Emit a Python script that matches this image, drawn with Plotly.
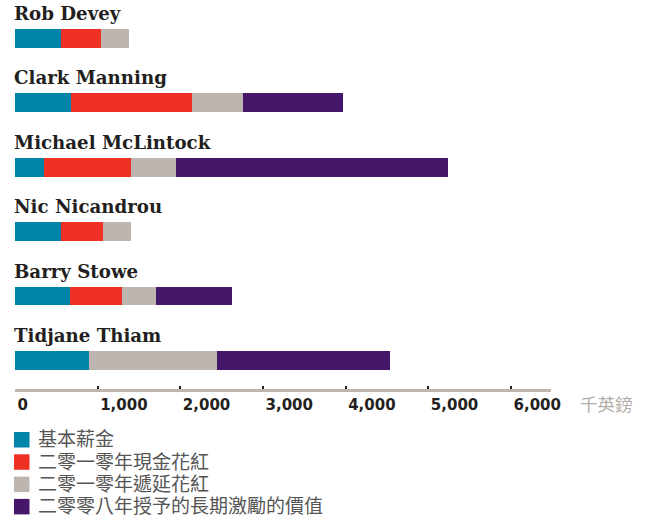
import plotly.graph_objects as go

# Prudential executive directors, 2010 remuneration (£ thousands)
names = ["Rob Devey", "Clark Manning", "Michael McLintock",
         "Nic Nicandrou", "Barry Stowe", "Tidjane Thiam"]
base_salary = [556, 681, 351, 556, 665, 895]
cash_bonus_2010 = [484, 1460, 1052, 508, 629, 0]
deferred_bonus_2010 = [339, 617, 544, 339, 411, 1548]
ltip_2008_value = [0, 1210, 3290, 0, 919, 2093]

series_names = ["基本薪金", "二零一零年現金花紅", "二零一零年遞延花紅", "二零零八年授予的長期激勵的價值"]
series_colors = ["#0085a8", "#ee3124", "#bdb5af", "#46166b"]
series_values = [base_salary, cash_bonus_2010, deferred_bonus_2010, ltip_2008_value]

tick_vals = [0, 1000, 2000, 3000, 4000, 5000, 6000]
tick_text = ["0", "1,000", "2,000", "3,000", "4,000", "5,000", "6,000"]
unit_label = "千英鎊"

W, H = 651, 519
rows = list(range(len(names)))

fig = go.Figure()
for label, color, vals in zip(series_names, series_colors, series_values):
    fig.add_trace(go.Bar(
        x=vals, y=rows, orientation="h", name=label,
        marker=dict(color=color, line=dict(width=0)),
        width=0.29, hoverinfo="skip", showlegend=False,
    ))

# executive names sit just above each bar
for i, n in enumerate(names):
    fig.add_annotation(
        x=0, y=i, xref="x", yref="y", text=n, showarrow=False,
        xanchor="left", yanchor="middle", xshift=-3, yshift=25,
        font=dict(family="DejaVu Serif", size=18.2, color="#231f20", weight="bold"),
    )

# unit label at the right end of the axis
fig.add_annotation(
    x=578 / W, y=1 - 403 / H, xref="paper", yref="paper", text=unit_label,
    showarrow=False, xanchor="left", yanchor="middle",
    font=dict(family="Noto Sans CJK TC", size=17.5, color="#b3aba5"),
)

# key: colour swatch + series name, one row per series
key_top, key_step, key_size = 432, 22.3, 15.5
key_font = "Liberation Sans, Noto Sans CJK TC"
for k, (label, color) in enumerate(zip(series_names, series_colors)):
    top = key_top + k * key_step
    fig.add_shape(
        type="rect", xref="paper", yref="paper",
        x0=14 / W, x1=(14 + key_size) / W,
        y0=1 - top / H, y1=1 - (top + key_size) / H,
        fillcolor=color, line=dict(width=0),
    )
    fig.add_annotation(
        x=36 / W, y=1 - (top + key_size / 2) / H, xref="paper", yref="paper",
        text=label, showarrow=False, xanchor="left", yanchor="middle",
        font=dict(family=key_font, size=19, color="#555555"),
    )

plot_bottom = 389
fig.update_layout(
    width=W, height=H,
    margin=dict(l=0, r=0, t=0, b=0),
    paper_bgcolor="white", plot_bgcolor="white",
    barmode="stack", bargap=0,
    showlegend=False,
    xaxis=dict(
        domain=[15 / W, 551 / W], range=[0, 6484],
        automargin=False,
        showgrid=False, zeroline=False,
        showline=True, linecolor="#bdb5af", linewidth=3,
        ticks="inside", ticklen=3, tickwidth=2, tickcolor="#231f20",
        tickvals=tick_vals, ticktext=tick_text,
        ticklabelposition="outside right",
        tickfont=dict(family="DejaVu Sans", size=15, color="#231f20", weight="bold"),
        fixedrange=True,
    ),
    yaxis=dict(
        domain=[1 - plot_bottom / H, 1],
        range=[5 + (plot_bottom - 360.5) / 64.44, -38.3 / 64.44],
        visible=False, automargin=False, fixedrange=True,
    ),
)

fig.write_html("out.html")
